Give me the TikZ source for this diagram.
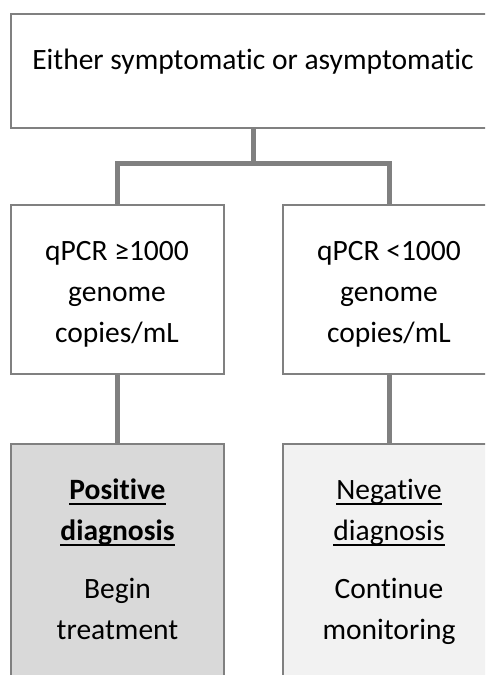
\documentclass[tikz,border=0pt]{standalone}
\usepackage{fontspec}
\setmainfont{Carlito}[Ligatures={NoCommon}]
\definecolor{linegray}{RGB}{128,128,128}
\definecolor{posfill}{RGB}{217,217,217}
\definecolor{negfill}{RGB}{242,242,242}
\newcommand\myul[1]{\setbox0\hbox{#1}\rlap{\rule[-6pt]{\wd0}{2pt}}\box0}
\newcommand\toprule{\rule{0pt}{25pt}}
\begin{document}
\begin{tikzpicture}[x=1pt,y=-1pt,
  box/.style={draw=linegray, line width=2pt, rectangle, inner sep=0pt, anchor=north west},
  conn/.style={draw=linegray, line width=5pt, line join=miter},
  txt/.style={font=\fontsize{29.5}{41}\selectfont, align=center, inner sep=0pt, anchor=north}]
\useasboundingbox (0,0) rectangle (485,675);
\clip (0,0) rectangle (485,675);
\fill[white] (0,0) rectangle (485,675);
\coordinate (hy) at (0,163);
% boxes
\node[box, fill=white, minimum width=484, minimum height=114] (top) at (10,13) {};
\node[box, fill=white, minimum width=213, minimum height=169] (ml) at (10,204) {};
\node[box, fill=white, minimum width=213, minimum height=169] (mr) at (282,204) {};
\node[box, fill=posfill, minimum width=213, minimum height=260] (bl) at (10,443) {};
\node[box, fill=negfill, minimum width=213, minimum height=260] (br) at (282,443) {};
% connectors
\draw[conn] (top.south) -- (top.south |- hy);
\draw[conn] (ml.north) -- (ml.north |- hy) -- (mr.north |- hy) -- (mr.north);
\draw[conn] (ml.south) -- (bl.north);
\draw[conn] (mr.south) -- (br.north);
% texts (first baseline = y + 25)
\node[txt] (ttop) at (253,44) {\toprule Either symptomatic or asymptomatic};
\node[txt] (tml) at (117,235) {\toprule qPCR ≥1000\\genome\\copies/mL};
\node[txt] (tmr) at (389,235) {\toprule qPCR <1000\\genome\\copies/mL};
\node[txt] (tbl) at (117.5,474) {\toprule\textbf{\myul{Positive}}\\\textbf{\myul{diagnosis}}\\[17pt]Begin\\treatment};
\node[txt] (tbr) at (389,474) {\toprule\myul{Negative}\\\myul{diagnosis}\\[17pt]Continue\\monitoring};
\end{tikzpicture}
\end{document}
